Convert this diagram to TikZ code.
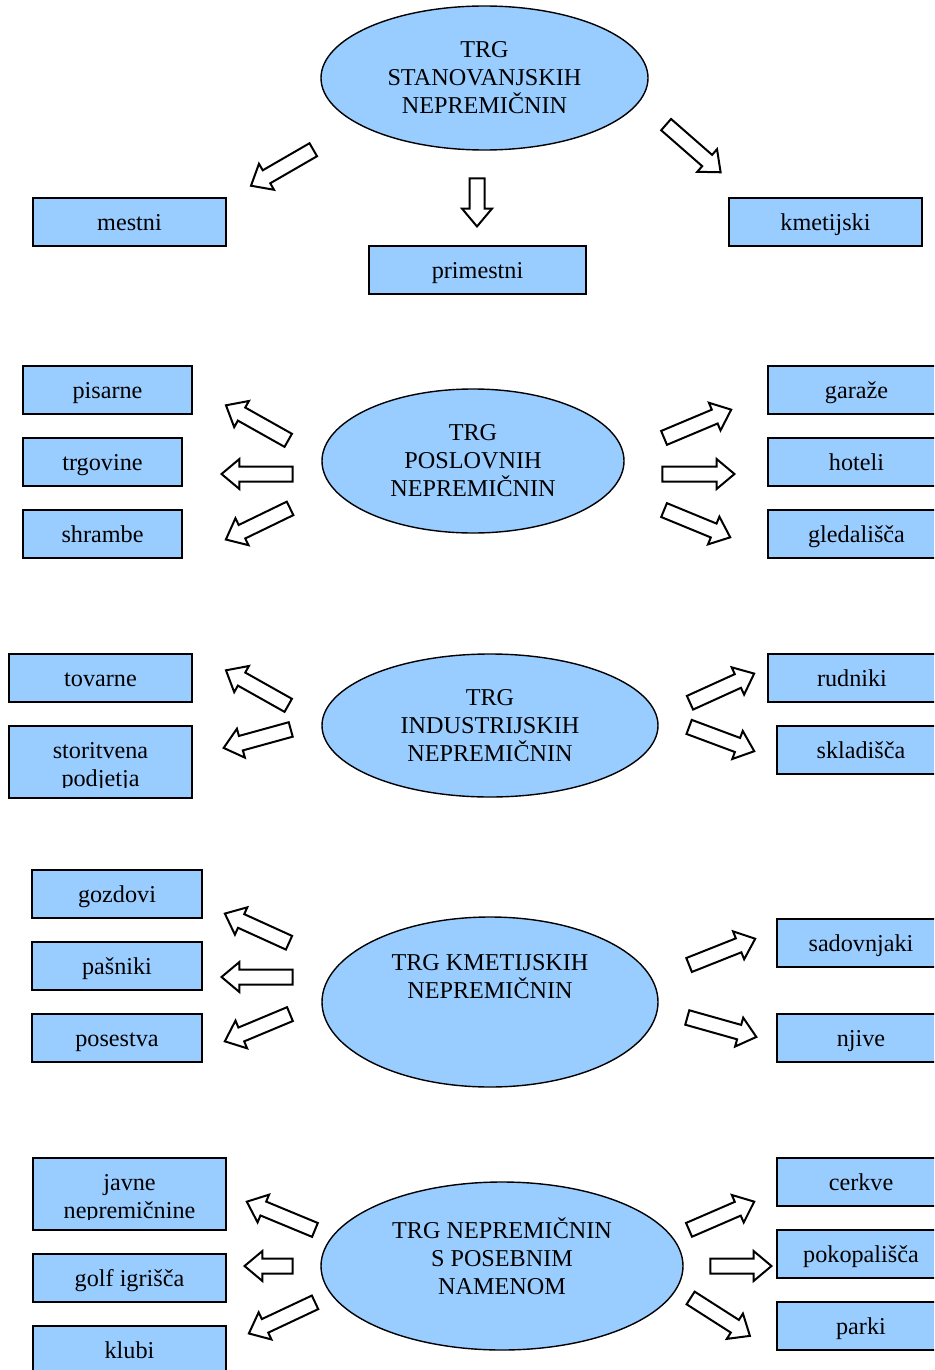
\documentclass[tikz,border=0pt]{standalone}
\usepackage{fontspec}
\setmainfont{Liberation Serif}
\usetikzlibrary{shapes.geometric,shapes.arrows,calc}
\definecolor{boxblue}{RGB}{153,204,255}
\tikzset{
  txt/.style={font=\fontsize{24.2}{28}\selectfont, text=black},
  catbox/.style={rectangle, draw=black, line width=1.4pt, fill=boxblue, inner sep=0pt, txt,
    text height=18pt, text depth=2pt},
  market/.style={ellipse, draw=black, line width=1.4pt, fill=boxblue, inner sep=0pt, txt, align=center},
  blockarrow/.style={single arrow, draw=black, line width=2pt, fill=white, inner sep=6.5pt,
    single arrow head extend=7.5pt, single arrow tip angle=80}
}
% category box: name, left, top, right, bottom, text
\newcommand{\catnode}[6]{%
  \node[catbox, minimum width={(#4-#2)*1pt}, minimum height={(#5-#3)*1pt}] (#1)
    at ({(#2+#4)/2},{(#3+#5)/2}) {#6};}
% hollow block arrow: name, tail x, tail y, tip x, tip y
\newcommand{\blockarr}[5]{%
  \path let \p1=(#2,#3), \p2=(#4,#5),
    \n1={atan2(\y2-\y1,\x2-\x1)}, \n2={veclen(\x2-\x1,\y2-\y1)} in
    node[blockarrow, rotate=\n1, minimum height=\n2-2] (#1) at ($(\p1)!0.5!(\p2)$) {};}
\begin{document}
\begin{tikzpicture}[x=1pt, y=-1pt]
\useasboundingbox (0,0) rectangle (934,1370);
\clip (0,0) rectangle (934,1370);

% --- residential property market
\node[market, minimum width=327pt, minimum height=144pt] (e1) at (484.5,78)
  {TRG\\STANOVANJSKIH\\NEPREMIČNIN};
\catnode{mestni}{33}{198}{226}{246}{mestni}
\catnode{primestni}{369}{246}{586}{294}{primestni}
\catnode{kmetijski}{729}{198}{922}{246}{kmetijski}
\blockarr{a11}{318}{147}{254}{184}
\blockarr{a12}{477}{173}{477}{223}
\blockarr{a13}{662}{121}{718}{170}

% --- business property market
\node[market, minimum width=302pt, minimum height=144pt] (e2) at (473,461)
  {TRG\\POSLOVNIH\\NEPREMIČNIN};
\catnode{pisarne}{23}{366}{192}{414}{pisarne}
\catnode{trgovine}{23}{438}{182}{486}{trgovine}
\catnode{shrambe}{23}{510}{182}{558}{shrambe}
\catnode{garaze}{768}{366}{945}{414}{garaže}
\catnode{hoteli}{768}{438}{945}{486}{hoteli}
\catnode{gledalisca}{768}{510}{945}{558}{gledališča}
\blockarr{a21}{293}{443}{229}{407}
\blockarr{a22}{298}{474}{225}{474}
\blockarr{a23}{295}{506}{229}{538}
\blockarr{a24}{659}{440}{728}{411}
\blockarr{a25}{657}{474}{731}{474}
\blockarr{a26}{659}{508}{727}{536}

% --- industrial property market
\node[market, minimum width=336pt, minimum height=143pt] (e3) at (490,725.5)
  {TRG\\INDUSTRIJSKIH\\NEPREMIČNIN};
\catnode{tovarne}{9}{654}{192}{702}{tovarne}
\catnode{storitvena}{9}{726}{192}{798}{}
\begin{scope}
  \clip (storitvena.north west) rectangle ($(storitvena.south east)+(0,-11)$);
  \node[txt, align=center, inner sep=0pt] (storitvenatxt) at ($(storitvena.center)+(0,5)$)
    {storitvena\\podjetja};
\end{scope}
\catnode{rudniki}{768}{654}{936}{702}{rudniki}
\catnode{skladisca}{777}{726}{945}{774}{skladišča}
\blockarr{a31}{293}{708}{229}{672}
\blockarr{a32}{296}{728}{227}{747}
\blockarr{a33}{685}{705}{751}{675}
\blockarr{a34}{684}{725}{751}{750}

% --- agricultural property market
\node[market, minimum width=336pt, minimum height=170pt] (e4) at (490,1002) {};
\node[txt, align=center, inner sep=0pt] (e4txt) at ($(e4.center)+(0,-25)$)
  {TRG KMETIJSKIH\\NEPREMIČNIN};
\catnode{gozdovi}{32}{870}{202}{918}{gozdovi}
\catnode{pasniki}{32}{942}{202}{990}{pašniki}
\catnode{posestva}{32}{1014}{202}{1062}{posestva}
\catnode{sadovnjaki}{777}{919}{945}{967}{sadovnjaki}
\catnode{njive}{777}{1014}{945}{1062}{njive}
\blockarr{a41}{294}{945}{228}{915}
\blockarr{a42}{298}{977}{225}{977}
\blockarr{a43}{295}{1012}{228}{1040}
\blockarr{a44}{684}{967}{752}{940}
\blockarr{a45}{682}{1016}{753}{1036}

% --- special purpose property market
\node[market, minimum width=362pt, minimum height=168pt] (e5) at (502,1266) {};
\node[txt, align=center, inner sep=0pt] (e5txt) at ($(e5.center)+(0,-10)$)
  {TRG NEPREMIČNIN\\S POSEBNIM\\NAMENOM};
\catnode{javne}{33}{1158}{226}{1230}{}
\begin{scope}
  \clip (javne.north west) rectangle ($(javne.south east)+(0,-11)$);
  \node[txt, align=center, inner sep=0pt] (javnetxt) at ($(javne.center)+(0,5)$)
    {javne\\nepremičnine};
\end{scope}
\catnode{golf}{33}{1254}{226}{1302}{golf igrišča}
\catnode{klubi}{33}{1326}{226}{1374}{klubi}
\catnode{cerkve}{777}{1158}{945}{1206}{cerkve}
\catnode{pokopalisca}{777}{1230}{945}{1278}{pokopališča}
\catnode{parki}{777}{1302}{945}{1350}{parki}
\blockarr{a51}{320}{1232}{250}{1203}
\blockarr{a52}{298}{1266}{248}{1266}
\blockarr{a53}{320}{1300}{252}{1332}
\blockarr{a54}{684}{1232}{751}{1203}
\blockarr{a55}{705}{1266}{768}{1266}
\blockarr{a56}{686}{1295}{747}{1334}
\end{tikzpicture}
\end{document}
